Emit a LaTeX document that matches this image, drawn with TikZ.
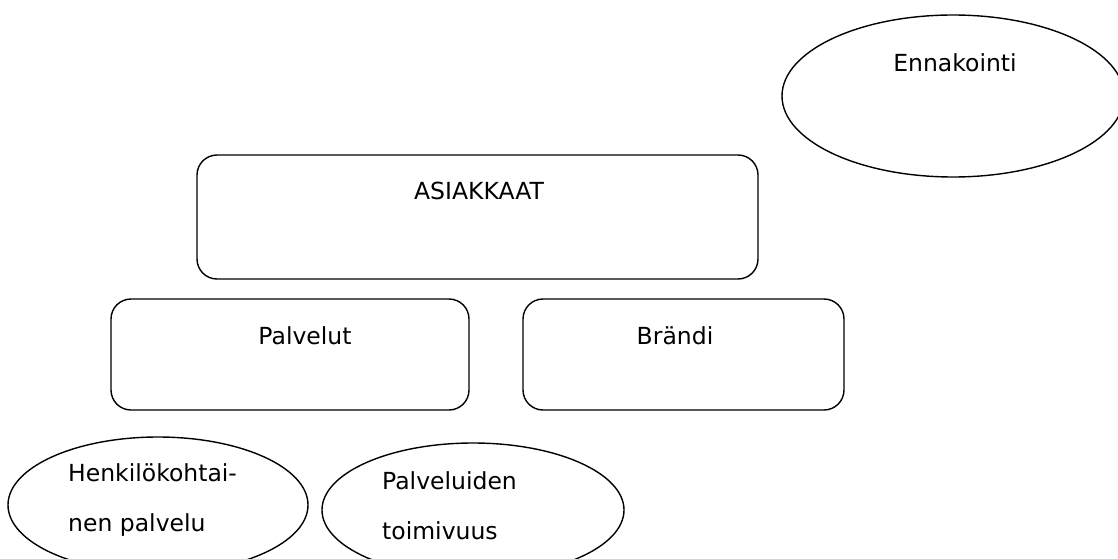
\documentclass[tikz,border=0pt]{standalone}
\usepackage{fontspec}
\setmainfont{DejaVu Sans}
\usetikzlibrary{shapes.geometric}
\begin{document}
\begin{tikzpicture}[x=1pt,y=-1pt,
  box/.style={draw,line width=1.4pt,rounded corners=20pt},
  oval/.style={draw,line width=1.4pt,ellipse,inner sep=0pt},
  lbl/.style={font=\fontsize{23.5}{28}\selectfont,inner sep=0pt,anchor=base}]
\useasboundingbox (0,0) rectangle (1118,559);
\clip (0,0) rectangle (1118,559);
% boxes
\draw[box] (197,155) rectangle (758,279);
\node[lbl] (asiakkaat) at (479,199) {ASIAKKAAT};
\draw[box] (111,299) rectangle (469,410);
\node[lbl] (palvelut) at (305,344) {Palvelut};
\draw[box] (523,299) rectangle (844,410);
\node[lbl] (brandi) at (675,344) {Brändi};
% ellipses
\node[oval,minimum width=342pt,minimum height=162pt] (enn) at (953,96) {};
\node[lbl] (ennt) at (955,72) {Ennakointi};
\node[oval,minimum width=300pt,minimum height=136pt] (henk) at (158,505) {};
\node[lbl,anchor=base west] (henk1) at (68,481) {Henkilökohtai-};
\node[lbl,anchor=base west] (henk2) at (68,531) {nen palvelu};
\node[oval,minimum width=302pt,minimum height=134pt] (palv) at (473,510) {};
\node[lbl,anchor=base west] (palv1) at (382,489) {Palveluiden};
\node[lbl,anchor=base west] (palv2) at (382,539) {toimivuus};
\end{tikzpicture}
\end{document}
